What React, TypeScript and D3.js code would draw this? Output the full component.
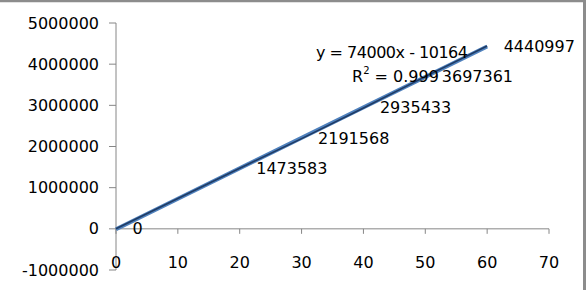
import React from "react";
import * as d3 from "d3";

const xValues = [0, 20, 30, 40, 50, 60];
const yValues = [0, 1473583, 2191568, 2935433, 3697361, 4440997];
const xTicks = [0, 10, 20, 30, 40, 50, 60, 70];
const yTicks = [-1000000, 0, 1000000, 2000000, 3000000, 4000000, 5000000];
const slope = 74000;
const intercept = -10164;
const equationText = "y = 74000x - 10164";
const r2Value = "0.999";

const W = 586;
const H = 290;
const FONT = "'DejaVu Sans', sans-serif";

export default function App() {
  const x = d3.scaleLinear().domain([0, 70]).range([116, 549]);
  const y = d3.scaleLinear().domain([-1000000, 5000000]).range([270, 23]);

  const pts = xValues.map((v, i) => [x(v), y(yValues[i])] as [number, number]);
  const line = d3.line();
  const trend = line([
    [x(0), y(intercept)],
    [x(60), y(slope * 60 + intercept)],
  ]);
  const axisColor = "#868686";

  return (
    <svg
      width={W}
      height={H}
      style={{ position: "absolute", left: 0, top: 0, background: "#fff" }}
      fontFamily={FONT}
    >
      {/* frame */}
      <line x1={0} x2={W} y1={1} y2={1} stroke="#8c8c8c" strokeWidth={2.5} />
      <line x1={584.5} x2={584.5} y1={0} y2={H} stroke="#8c8c8c" strokeWidth={3} />

      {/* y axis */}
      <line x1={x(0)} x2={x(0)} y1={y(5000000)} y2={y(-1000000)} stroke={axisColor} strokeWidth={1} />
      {yTicks.map((t) => (
        <g key={t}>
          <line x1={x(0) - 7} x2={x(0)} y1={y(t)} y2={y(t)} stroke={axisColor} />
          <text x={99} y={y(t)} textAnchor="end" dominantBaseline="central" fontSize={16} fill="#000">
            {t}
          </text>
        </g>
      ))}

      {/* x axis */}
      <line x1={x(0)} x2={x(70)} y1={y(0)} y2={y(0)} stroke={axisColor} strokeWidth={1} />
      {xTicks.map((t) => (
        <g key={t}>
          <line x1={x(t)} x2={x(t)} y1={y(0)} y2={y(0) + 5} stroke={axisColor} />
          <text x={x(t)} y={262} textAnchor="middle" dominantBaseline="central" fontSize={16} fill="#000">
            {t}
          </text>
        </g>
      ))}

      {/* trendline */}
      <path d={trend ?? ""} stroke="#4F81BD" strokeWidth={4} fill="none" />
      {/* data line */}
      <path d={line(pts) ?? ""} stroke="#1F3B64" strokeWidth={1.6} fill="none" />

      {/* data labels */}
      {pts.map(([px, py], i) => (
        <text key={i} x={px + 16.5} y={py} dominantBaseline="central" fontSize={16} fill="#000">
          {yValues[i]}
        </text>
      ))}

      {/* equation */}
      <text
        x={316}
        y={52}
        dominantBaseline="central"
        fontSize={16}
        fill="#000"
        textLength={152}
        lengthAdjust="spacing"
      >
        {equationText}
      </text>
      <text x={352} y={76} dominantBaseline="central" fontSize={16} fill="#000">
        R<tspan fontSize={10} dy={-6}>2</tspan>
        <tspan dy={6}>{" = " + r2Value}</tspan>
      </text>
    </svg>
  );
}
